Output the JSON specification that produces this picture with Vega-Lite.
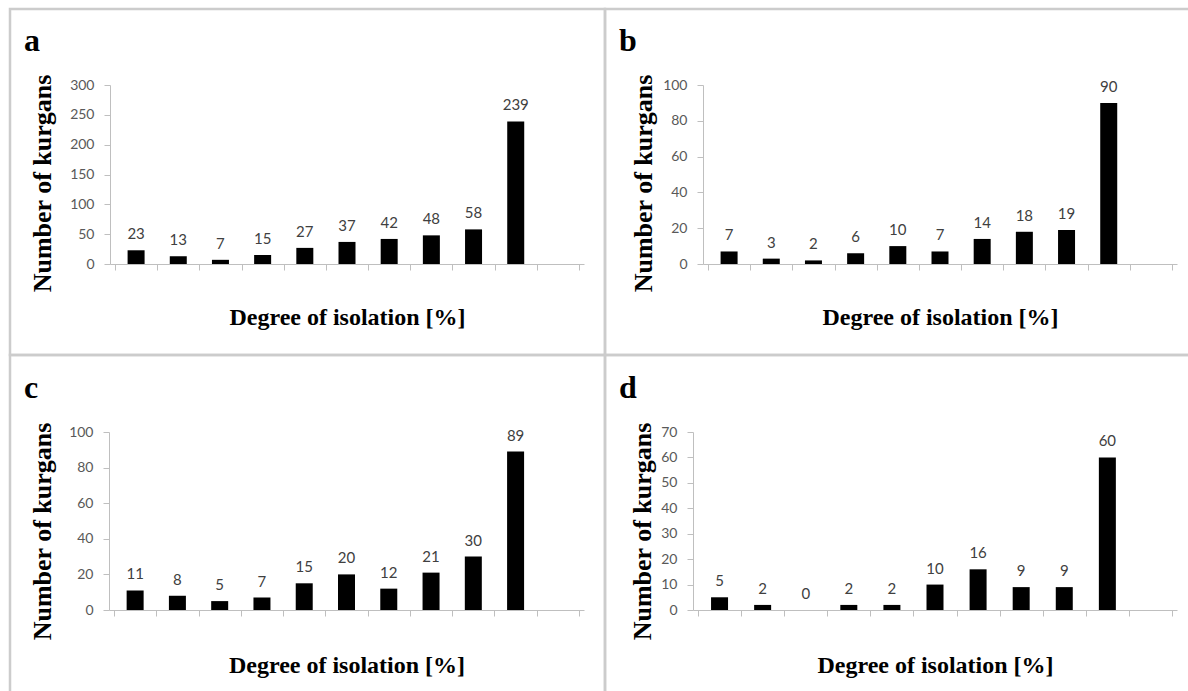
{
  "$schema": "https://vega.github.io/schema/vega-lite/v6.json",
  "padding": {"left": 8, "top": 7, "right": 0, "bottom": 0},
  "background": "white",
  "spacing": 0,
  "bounds": "flush",
  "columns": 2,
  "resolve": {"scale": {"x": "independent", "y": "independent"}, "axis": {"x": "independent", "y": "independent"}},
  "datasets": {
    "a": [{"deg":10,"n":23},{"deg":20,"n":13},{"deg":30,"n":7},{"deg":40,"n":15},{"deg":50,"n":27},{"deg":60,"n":37},{"deg":70,"n":42},{"deg":80,"n":48},{"deg":90,"n":58},{"deg":100,"n":239}],
    "b": [{"deg":10,"n":7},{"deg":20,"n":3},{"deg":30,"n":2},{"deg":40,"n":6},{"deg":50,"n":10},{"deg":60,"n":7},{"deg":70,"n":14},{"deg":80,"n":18},{"deg":90,"n":19},{"deg":100,"n":90}],
    "c": [{"deg":10,"n":11},{"deg":20,"n":8},{"deg":30,"n":5},{"deg":40,"n":7},{"deg":50,"n":15},{"deg":60,"n":20},{"deg":70,"n":12},{"deg":80,"n":21},{"deg":90,"n":30},{"deg":100,"n":89}],
    "d": [{"deg":10,"n":5},{"deg":20,"n":2},{"deg":30,"n":0},{"deg":40,"n":2},{"deg":50,"n":2},{"deg":60,"n":10},{"deg":70,"n":16},{"deg":80,"n":9},{"deg":90,"n":9},{"deg":100,"n":60}]
  },
  "concat": [
    {
      "width": 595, "height": 346,
      "title": {"text": "a", "dy": 53, "dx": 14},
      "data": {"name": "a"},
      "layer": [
        {
          "mark": {"type": "bar", "width": 17, "color": "black"},
          "encoding": {
            "x": {"field": "deg", "type": "quantitative", "scale": {"domain": [5, 115], "range": [100, 574], "nice": false, "zero": false},
              "axis": {"title": "Degree of isolation [%]", "offset": -91, "values": [5,10,15,20,25,30,35,40,45,50,55,60,65,70,75,80,85,90,95,100,105,110,115],
                "labelExpr": "(datum.value % 10 === 0 && datum.value <= 100) ? datum.label : ''",
                "tickOpacity": {"condition": {"test": "datum.value % 10 === 0", "value": 0}, "value": 1},
                "labelPadding": 10, "labelOverlap": false, "labelFlush": false,
                "titleFontSize": 24, "titleBaseline": "alphabetic", "titleY": 60}},
            "y": {"field": "n", "type": "quantitative", "scale": {"domain": [0, 300], "range": [255, 76], "nice": false},
              "axis": {"title": "Number of kurgans", "offset": -100, "values": [0,50,100,150,200,250,300], "labelPadding": 10,
                "titleFontSize": 26, "titleBaseline": "alphabetic", "titleX": -60, "titleY": 174, "titleAngle": -90}}
          }
        },
        {
          "mark": {"type": "text", "dy": -11, "baseline": "alphabetic", "align": "center", "font": "Lato", "fontSize": 15, "color": "#404040"},
          "encoding": {
            "x": {"field": "deg", "type": "quantitative"},
            "y": {"field": "n", "type": "quantitative"},
            "text": {"field": "n", "type": "quantitative"}
          }
        }
      ]
    },
    {
      "width": 590, "height": 346,
      "title": {"text": "b", "dy": 53, "dx": 14},
      "data": {"name": "b"},
      "layer": [
        {
          "mark": {"type": "bar", "width": 17, "color": "black"},
          "encoding": {
            "x": {"field": "deg", "type": "quantitative", "scale": {"domain": [5, 115], "range": [98, 572], "nice": false, "zero": false},
              "axis": {"title": "Degree of isolation [%]", "offset": -91, "values": [5,10,15,20,25,30,35,40,45,50,55,60,65,70,75,80,85,90,95,100,105,110,115],
                "labelExpr": "(datum.value % 10 === 0 && datum.value <= 100) ? datum.label : ''",
                "tickOpacity": {"condition": {"test": "datum.value % 10 === 0", "value": 0}, "value": 1},
                "labelPadding": 10, "labelOverlap": false, "labelFlush": false,
                "titleFontSize": 24, "titleBaseline": "alphabetic", "titleY": 60}},
            "y": {"field": "n", "type": "quantitative", "scale": {"domain": [0, 100], "range": [255, 76], "nice": false},
              "axis": {"title": "Number of kurgans", "offset": -98, "values": [0,20,40,60,80,100], "labelPadding": 10,
                "titleFontSize": 26, "titleBaseline": "alphabetic", "titleX": -52, "titleY": 174, "titleAngle": -90}}
          }
        },
        {
          "mark": {"type": "text", "dy": -11, "baseline": "alphabetic", "align": "center", "font": "Lato", "fontSize": 15, "color": "#404040"},
          "encoding": {
            "x": {"field": "deg", "type": "quantitative"},
            "y": {"field": "n", "type": "quantitative"},
            "text": {"field": "n", "type": "quantitative"}
          }
        }
      ]
    },
    {
      "width": 595, "height": 345,
      "title": {"text": "c", "dy": 54, "dx": 14},
      "data": {"name": "c"},
      "layer": [
        {
          "mark": {"type": "bar", "width": 17, "color": "black"},
          "encoding": {
            "x": {"field": "deg", "type": "quantitative", "scale": {"domain": [5, 115], "range": [99, 574], "nice": false, "zero": false},
              "axis": {"title": "Degree of isolation [%]", "offset": -90, "values": [5,10,15,20,25,30,35,40,45,50,55,60,65,70,75,80,85,90,95,100,105,110,115],
                "labelExpr": "(datum.value % 10 === 0 && datum.value <= 100) ? datum.label : ''",
                "tickOpacity": {"condition": {"test": "datum.value % 10 === 0", "value": 0}, "value": 1},
                "labelPadding": 10, "labelOverlap": false, "labelFlush": false,
                "titleFontSize": 24, "titleBaseline": "alphabetic", "titleY": 62}},
            "y": {"field": "n", "type": "quantitative", "scale": {"domain": [0, 100], "range": [255, 77], "nice": false},
              "axis": {"title": "Number of kurgans", "offset": -99, "values": [0,20,40,60,80,100], "labelPadding": 10,
                "titleFontSize": 26, "titleBaseline": "alphabetic", "titleX": -59, "titleY": 176, "titleAngle": -90}}
          }
        },
        {
          "mark": {"type": "text", "dy": -11, "baseline": "alphabetic", "align": "center", "font": "Lato", "fontSize": 15, "color": "#404040"},
          "encoding": {
            "x": {"field": "deg", "type": "quantitative"},
            "y": {"field": "n", "type": "quantitative"},
            "text": {"field": "n", "type": "quantitative"}
          }
        }
      ]
    },
    {
      "width": 590, "height": 345,
      "title": {"text": "d", "dy": 54, "dx": 14},
      "data": {"name": "d"},
      "layer": [
        {
          "mark": {"type": "bar", "width": 17, "color": "black"},
          "encoding": {
            "x": {"field": "deg", "type": "quantitative", "scale": {"domain": [5, 115], "range": [88, 572], "nice": false, "zero": false},
              "axis": {"title": "Degree of isolation [%]", "offset": -90, "values": [5,10,15,20,25,30,35,40,45,50,55,60,65,70,75,80,85,90,95,100,105,110,115],
                "labelExpr": "(datum.value % 10 === 0 && datum.value <= 100) ? datum.label : ''",
                "tickOpacity": {"condition": {"test": "datum.value % 10 === 0", "value": 0}, "value": 1},
                "labelPadding": 10, "labelOverlap": false, "labelFlush": false,
                "titleFontSize": 24, "titleBaseline": "alphabetic", "titleY": 62}},
            "y": {"field": "n", "type": "quantitative", "scale": {"domain": [0, 70], "range": [255, 77], "nice": false},
              "axis": {"title": "Number of kurgans", "offset": -88, "values": [0,10,20,30,40,50,60,70], "labelPadding": 10,
                "titleFontSize": 26, "titleBaseline": "alphabetic", "titleX": -43, "titleY": 176, "titleAngle": -90}}
          }
        },
        {
          "mark": {"type": "text", "dy": -11, "baseline": "alphabetic", "align": "center", "font": "Lato", "fontSize": 15, "color": "#404040"},
          "encoding": {
            "x": {"field": "deg", "type": "quantitative"},
            "y": {"field": "n", "type": "quantitative"},
            "text": {"field": "n", "type": "quantitative"}
          }
        }
      ]
    }
  ],
  "config": {
    "view": {"stroke": "#cccccc", "strokeWidth": 2.5},
    "axis": {"domainColor": "#bfbfbf", "tickColor": "#bfbfbf", "tickSize": 6, "grid": false,
      "labelFont": "Lato", "labelFontSize": 14, "labelColor": "#595959",
      "titleFont": "Liberation Serif", "titleFontWeight": "bold", "titleColor": "black"},
    "title": {"anchor": "start", "frame": "group", "orient": "top", "offset": 0, "baseline": "alphabetic",
      "font": "Liberation Serif", "fontSize": 32, "fontWeight": "bold", "color": "black"}
  }
}
